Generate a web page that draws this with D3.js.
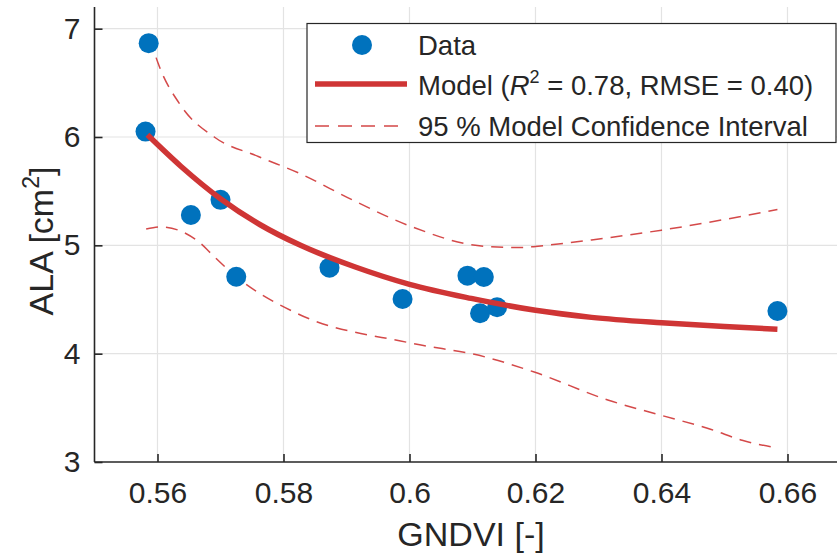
<!DOCTYPE html>
<html><head><meta charset="utf-8">
<script src="https://cdn.jsdelivr.net/npm/d3@7"></script>
<style>body{margin:0;background:#fff}svg{display:block}text{font-family:"Liberation Sans",Arial,sans-serif;fill:#262626}</style>
</head><body><div id="c"></div>
<script>
const dataX = [0.5586, 0.5581, 0.5653, 0.5700, 0.5725, 0.5873, 0.5989, 0.6092, 0.6118, 0.6112, 0.6139, 0.6584];
const dataY = [6.866, 6.05, 5.28, 5.42, 4.71, 4.794, 4.505, 4.72, 4.708, 4.373, 4.428, 4.394];
const modelX = [0.5584, 0.5637, 0.5700, 0.5763, 0.5827, 0.5914, 0.6000, 0.6098, 0.6200, 0.6289, 0.6400, 0.6500, 0.6584];
const modelY = [6.02, 5.73, 5.43, 5.19, 5.00, 4.80, 4.64, 4.51, 4.40, 4.335, 4.285, 4.25, 4.225];
const upperX = [0.5588, 0.5601, 0.5637, 0.5690, 0.5760, 0.5827, 0.5909, 0.6000, 0.6120, 0.6180, 0.6200, 0.6289, 0.6400, 0.6584];
const upperY = [6.91, 6.68, 6.29, 6.00, 5.82, 5.66, 5.42, 5.18, 4.99, 4.98, 4.99, 5.05, 5.14, 5.33];
const lowerX = [0.5582, 0.5605, 0.5668, 0.5684, 0.5725, 0.5822, 0.6000, 0.6120, 0.6198, 0.6316, 0.6400, 0.6479, 0.6528, 0.6584];
const lowerY = [5.15, 5.17, 5.02, 4.93, 4.71, 4.37, 4.10, 3.97, 3.83, 3.57, 3.43, 3.30, 3.20, 3.13];
const xTicks = [0.56, 0.58, 0.60, 0.62, 0.64, 0.66];
const xTickLabels = ["0.56", "0.58", "0.6", "0.62", "0.64", "0.66"];
const yTicks = [3, 4, 5, 6, 7];
const yTickLabels = ["3", "4", "5", "6", "7"];
const legendLabels = ["Data", "Model", "95 % Model Confidence Interval"];

const W = 837, H = 554;
const blue = "#0072BD", red = "#CF3535";
const svg = d3.select("#c").append("svg").attr("width", W).attr("height", H);
const x = d3.scaleLinear().domain([0.55, 0.67]).range([94.5, 850.5]);
const y = d3.scaleLinear().domain([3, 7.2]).range([462, 7]);
const pLeft = x(0.55), pBottom = y(3), pTop = y(7.2);

// grid
const g = svg.append("g");
g.selectAll(".gx").data(xTicks).enter().append("line")
  .attr("x1", d => x(d)).attr("x2", d => x(d)).attr("y1", pTop).attr("y2", pBottom)
  .attr("stroke", "#e3e3e3").attr("stroke-width", 1.2);
g.selectAll(".gy").data(yTicks.slice(1)).enter().append("line")
  .attr("x1", pLeft).attr("x2", W).attr("y1", d => y(d)).attr("y2", d => y(d))
  .attr("stroke", "#e3e3e3").attr("stroke-width", 1.2);

// axes
const xAxis = d3.axisBottom(x).tickValues(xTicks).tickFormat((d, i) => xTickLabels[i]).tickSizeInner(-8).tickSizeOuter(0).tickPadding(20);
const yAxis = d3.axisLeft(y).tickValues(yTicks).tickFormat((d, i) => yTickLabels[i]).tickSizeInner(-8).tickSizeOuter(0).tickPadding(14);
const ax = svg.append("g").attr("transform", `translate(0,${pBottom})`).call(xAxis);
const ay = svg.append("g").attr("transform", `translate(${pLeft},0)`).call(yAxis);
[ax, ay].forEach(a => {
  a.select(".domain").attr("stroke", "#262626").attr("stroke-width", 1.6);
  a.selectAll(".tick line").attr("stroke", "#262626").attr("stroke-width", 1.6);
  a.selectAll(".tick text").attr("font-size", 30).attr("fill", "#262626")
    .style("font-family", '"Liberation Sans",Arial,sans-serif');
});
ay.select(".domain").attr("d", `M0,${pBottom}V${pTop}`);
ax.select(".domain").attr("d", `M${pLeft},0H${W}`);

// axis labels
svg.append("text").attr("x", 471).attr("y", 546).attr("text-anchor", "middle").attr("font-size", 34).text("GNDVI [-]");
const yl = svg.append("text").attr("transform", "translate(53,241) rotate(-90)").attr("text-anchor", "middle").attr("font-size", 34);
yl.append("tspan").text("ALA [cm");
yl.append("tspan").attr("font-size", 23).attr("dy", -14).text("2");
yl.append("tspan").attr("dy", 14).text("]");

// curves
const line = d3.line().x(d => x(d[0])).y(d => y(d[1])).curve(d3.curveMonotoneX);
const zip = (a, b) => a.map((v, i) => [v, b[i]]);
svg.append("path").attr("d", line(zip(upperX, upperY))).attr("fill", "none").attr("stroke", red).attr("stroke-width", 1.5).attr("stroke-dasharray", "12,8").attr("opacity", 0.9);
svg.append("path").attr("d", line(zip(lowerX, lowerY))).attr("fill", "none").attr("stroke", red).attr("stroke-width", 1.5).attr("stroke-dasharray", "12,8").attr("opacity", 0.9);

// points
svg.selectAll(".pt").data(zip(dataX, dataY)).enter().append("circle")
  .attr("cx", d => x(d[0])).attr("cy", d => y(d[1])).attr("r", 10).attr("fill", blue);

svg.append("path").attr("d", line(zip(modelX, modelY))).attr("fill", "none").attr("stroke", red).attr("stroke-width", 5.5);

// legend
const lg = svg.append("g");
lg.append("rect").attr("x", 307).attr("y", 23.5).attr("width", 529).attr("height", 119).attr("fill", "#fff").attr("stroke", "#262626").attr("stroke-width", 1.2);
lg.append("circle").attr("cx", 362).attr("cy", 45).attr("r", 10).attr("fill", blue);
lg.append("line").attr("x1", 315).attr("x2", 407).attr("y1", 84).attr("y2", 84).attr("stroke", red).attr("stroke-width", 5.5);
lg.append("line").attr("x1", 315).attr("x2", 407).attr("y1", 126).attr("y2", 126).attr("stroke", red).attr("stroke-width", 1.5).attr("stroke-dasharray", "14,9").attr("opacity", 0.9);
lg.append("text").attr("x", 418).attr("y", 55).attr("font-size", 27.5).text(legendLabels[0]);
const mt = lg.append("text").attr("x", 418).attr("y", 95).attr("font-size", 27.5);
mt.append("tspan").text(legendLabels[1] + " (");
mt.append("tspan").attr("font-style", "italic").text("R");
mt.append("tspan").attr("font-size", 18).attr("dy", -12).text("2");
mt.append("tspan").attr("dy", 12).text(" = 0.78, RMSE = 0.40)");
lg.append("text").attr("x", 418).attr("y", 136).attr("font-size", 27.5).text(legendLabels[2]);
</script></body></html>
